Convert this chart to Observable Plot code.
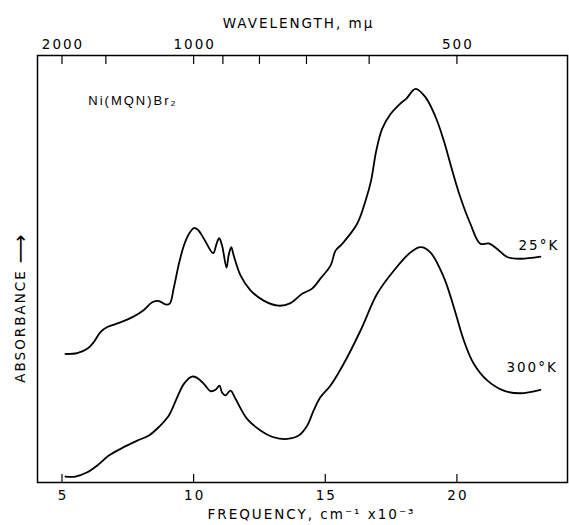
<!DOCTYPE html>
<html><head><meta charset="utf-8">
<script src="https://cdn.jsdelivr.net/npm/d3@7"></script>
<script src="https://cdn.jsdelivr.net/npm/@observablehq/plot@0.6"></script>
<style>
html,body{margin:0;padding:0;background:#fff;}
#chart svg{display:block;}
</style></head><body><div id="chart"></div>
<script>
// Frequency in cm^-1 x 10^-3, absorbance in arbitrary units (0-100 across the frame)
const freq25 = [5.13,5.58,5.96,6.21,6.46,6.72,7.22,7.73,8.11,8.43,8.68,8.93,9.09,9.25,9.44,9.63,9.82,10.01,10.16,10.39,10.74,10.87,10.97,11.08,11.25,11.33,11.43,11.52,11.78,12.16,12.66,13.23,13.68,14.12,14.50,14.82,15.20,15.39,15.58,15.70,16.21,16.53,16.74,16.94,17.16,17.48,17.86,18.08,18.43,18.81,19.19,19.50,19.82,20.13,20.51,20.89,21.21,21.53,21.91,22.41,23.17];
const abs25 = [30.1,30.3,31.3,32.9,35.2,36.4,37.5,38.9,40.4,42.2,42.5,41.7,41.9,45.7,51.2,55.5,58.2,59.6,59.2,57.1,53.7,55.9,57.2,55.5,50.3,53.2,55.1,53.2,48.5,45.0,42.6,41.4,42.0,44.2,45.4,47.8,50.8,54.3,55.5,56.3,60.6,66.0,70.7,77.8,82.8,86.3,88.8,89.9,92.2,90.2,85.6,80.1,73.1,66.8,60.6,55.9,56.0,54.7,52.8,52.4,52.9];
const freq300 = [5.13,5.51,5.96,6.34,6.78,7.29,7.86,8.30,8.68,9.06,9.38,9.63,9.94,10.13,10.39,10.64,10.83,10.98,11.08,11.21,11.40,11.59,12.03,12.54,13.04,13.55,13.99,14.31,14.56,14.82,15.20,15.70,16.34,16.97,17.60,18.24,18.62,18.99,19.50,19.88,20.26,20.64,21.15,21.78,22.41,23.17];
const abs300 = [1.4,1.4,2.4,4.0,6.3,8.1,9.8,11.0,13.0,15.7,20.0,23.1,24.8,24.5,23.1,21.4,21.7,22.7,21.1,20.4,21.5,19.6,14.9,12.2,10.6,10.2,11.0,13.3,16.9,20.0,22.7,27.8,35.6,44.2,49.6,53.9,55.1,53.9,48.1,41.1,33.3,27.8,23.9,21.5,20.9,21.7];

const freqTicks = [5, 10, 15, 20];
const waveTicks = [2000, 1500, 1000, 900, 800, 700, 600, 500];
const waveLabels = [2000, 1000, 500];

const seriesNames = ["25°K", "300°K"];
const seriesLabelFreq = [22.34, 21.88];
const seriesLabelAbs = [55.5, 26.9];

const noteText = ["Ni(MQN)Br₂"];
const noteFreq = [6.0];
const noteAbs = [89.5];

const rows = [
  ...freq25.map((f, i) => ({series: seriesNames[0], f, a: abs25[i]})),
  ...freq300.map((f, i) => ({series: seriesNames[1], f, a: abs300[i]}))
];
const seriesLabels = seriesNames.map((s, i) => ({s, f: seriesLabelFreq[i], a: seriesLabelAbs[i]}));
const notes = noteText.map((t, i) => ({t, f: noteFreq[i], a: noteAbs[i]}));

const font = "'DejaVu Sans', 'Liberation Sans', sans-serif";

const chart = Plot.plot({
  width: 569,
  height: 525,
  marginLeft: 37,
  marginRight: 2,
  marginTop: 55,
  marginBottom: 43,
  style: {fontFamily: font, background: "#fff", color: "#000", letterSpacing: "2px"},
  x: {domain: [4.07, 24.2]},
  y: {domain: [0, 100], axis: null},
  marks: [
    Plot.frame({stroke: "#000", strokeWidth: 1.5}),
    Plot.ruleX(freqTicks, {x: d => d, y1: 0, y2: 1.9, stroke: "#000", strokeWidth: 1.2}),
    Plot.ruleX(waveTicks, {x: d => 1e4 / d, y1: 100, y2: 97.9, stroke: "#000", strokeWidth: 1.2}),
    Plot.axisX({anchor: "bottom", ticks: freqTicks, tickSize: 0, tickPadding: 8, fontSize: 13.5, label: null, dx: 1}),
    Plot.axisX({anchor: "top", ticks: waveLabels.map(w => 1e4 / w), tickFormat: d => String(Math.round(1e4 / d)), tickSize: 0, tickPadding: 7, fontSize: 13.5, label: null, dx: 1}),
    Plot.line(rows, {x: "f", y: "a", z: "series", curve: "catmull-rom", stroke: "#000", strokeWidth: 1.8}),
    Plot.text(seriesLabels, {x: "f", y: "a", text: "s", textAnchor: "start", fontSize: 13.5, fill: "#000"}),
    Plot.text(notes, {x: "f", y: "a", text: "t", textAnchor: "start", fontSize: 13, fill: "#000", fontFamily: "'Liberation Sans', sans-serif", style: "letter-spacing:0"}),
    Plot.text(["WAVELENGTH, mμ"], {frameAnchor: "top", textAnchor: "middle", lineAnchor: "middle", dx: -4, dy: -32, fontSize: 13.5, fill: "#000"}),
    Plot.text(["FREQUENCY, cm⁻¹ x10⁻³"], {frameAnchor: "bottom", textAnchor: "middle", lineAnchor: "middle", dx: 9, dy: 32, fontSize: 13.5, fill: "#000"}),
    Plot.text(["ABSORBANCE"], {frameAnchor: "left", textAnchor: "middle", lineAnchor: "middle", dx: -17, dy: 57, rotate: -90, fontSize: 13.5, fill: "#000"}),
    Plot.text(["⟶"], {frameAnchor: "left", textAnchor: "middle", lineAnchor: "middle", dx: -17, dy: -21, rotate: -90, fontSize: 20, fill: "#000", style: "letter-spacing:0"})
  ]
});
document.getElementById("chart").appendChild(chart);
</script>
</body></html>
